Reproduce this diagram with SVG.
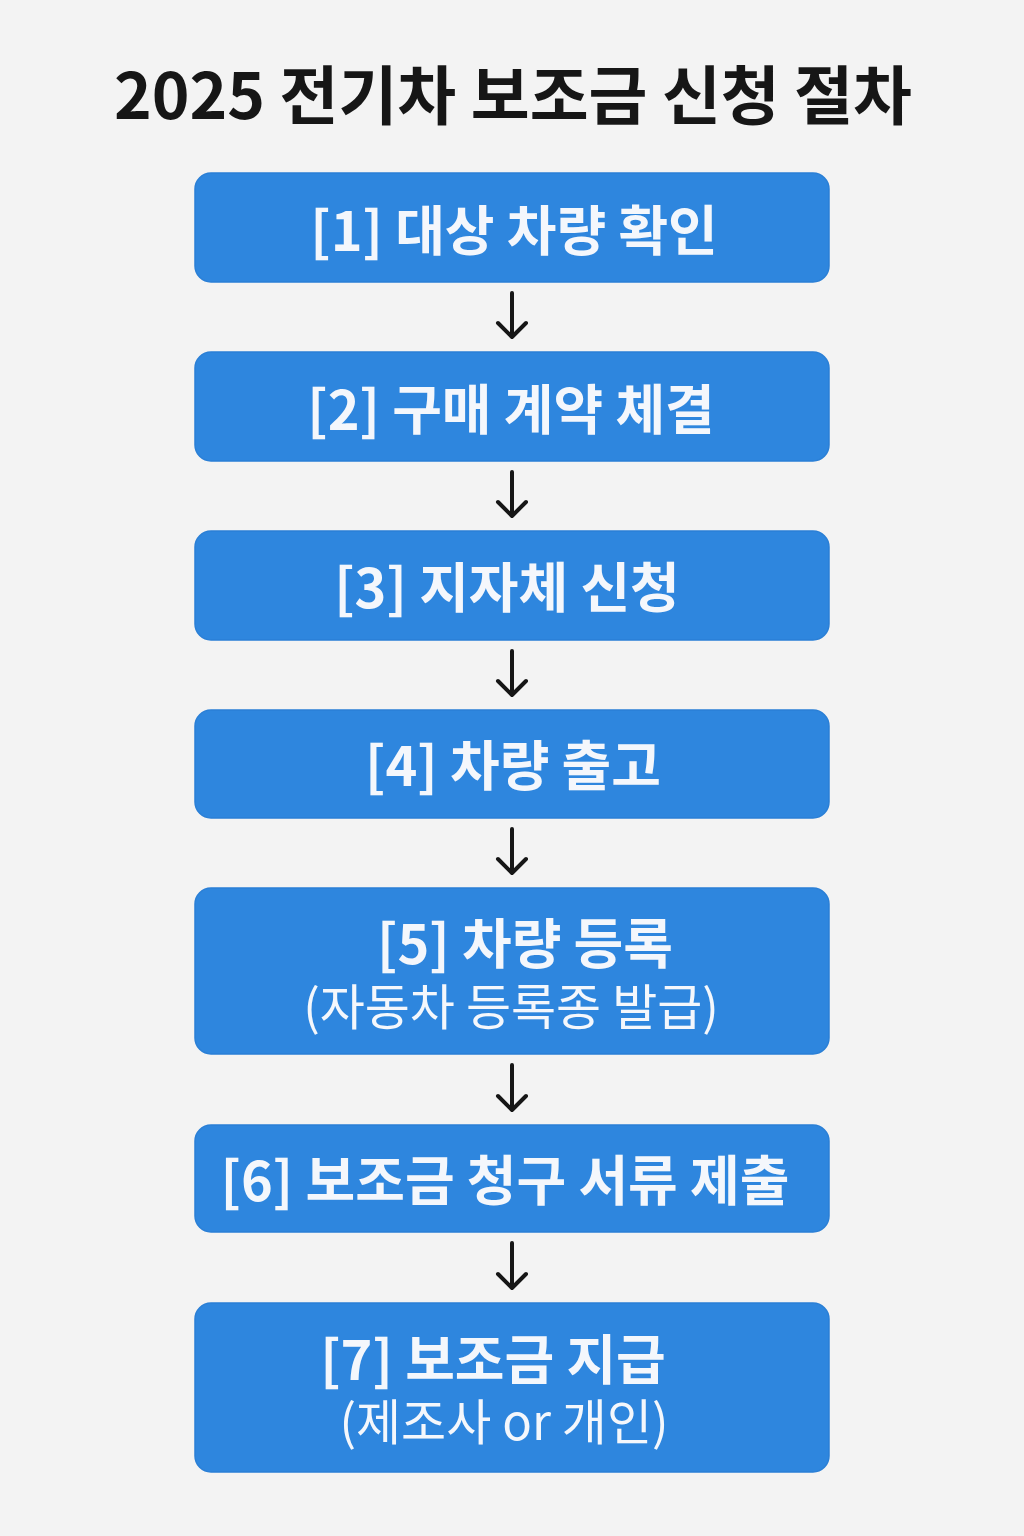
<svg xmlns="http://www.w3.org/2000/svg" width="1024" height="1536" viewBox="0 0 1024 1536">
<style>
.box{fill:#2E86DE;stroke:#2A7FD6;stroke-width:1.5}
.t{font-family:"Noto Sans CJK KR","Noto Sans",sans-serif;font-weight:700;font-size:54px;fill:#F4F7FC;text-anchor:middle}
.s{font-family:"Noto Sans CJK KR","Noto Sans",sans-serif;font-weight:400;font-size:49px;fill:#F4F7FC;text-anchor:middle}
.ttl{font-family:"Noto Sans CJK KR","Noto Sans",sans-serif;font-weight:700;font-size:64px;fill:#161616;text-anchor:middle}
.c{stroke:#161616;stroke-width:4;fill:none;stroke-linecap:round;stroke-linejoin:round}
</style>
<rect width="1024" height="1536" fill="#F3F3F3"/>
<text class="ttl" x="513" y="119">2025 전기차 보조금 신청 절차</text>
<g id="node1"><rect class="box" x="195" y="173" width="634" height="109" rx="16"/><text class="t" x="514" y="251">[1] 대상 차량 확인</text></g>
<g id="node2"><rect class="box" x="195" y="352" width="634" height="109" rx="16"/><text class="t" x="511" y="430">[2] 구매 계약 체결</text></g>
<g id="node3"><rect class="box" x="195" y="531" width="634" height="109" rx="16"/><text class="t" x="507" y="608">[3] 지자체 신청</text></g>
<g id="node4"><rect class="box" x="195" y="710" width="634" height="108" rx="16"/><text class="t" x="513" y="786">[4] 차량 출고</text></g>
<g id="node5"><rect class="box" x="195" y="888" width="634" height="166" rx="16"/><text class="t" x="525" y="964">[5] 차량 등록</text><text class="s" x="511" y="1025">(자동차 등록종 발급)</text></g>
<g id="node6"><rect class="box" x="195" y="1125" width="634" height="107" rx="16"/><text class="t" x="505" y="1201">[6] 보조금 청구 서류 제출</text></g>
<g id="node7"><rect class="box" x="195" y="1303" width="634" height="169" rx="16"/><text class="t" x="493" y="1380">[7] 보조금 지급</text><text class="s" x="504" y="1440">(제조사 or 개인)</text></g>
<g id="connectors">
<path class="c" d="M512 293V337M498 323L512 337L526 323"/>
<path class="c" d="M512 472V516M498 502L512 516L526 502"/>
<path class="c" d="M512 651V695M498 681L512 695L526 681"/>
<path class="c" d="M512 829V873M498 859L512 873L526 859"/>
<path class="c" d="M512 1065V1110M498 1096L512 1110L526 1096"/>
<path class="c" d="M512 1243V1288M498 1274L512 1288L526 1274"/>
</g>
</svg>
